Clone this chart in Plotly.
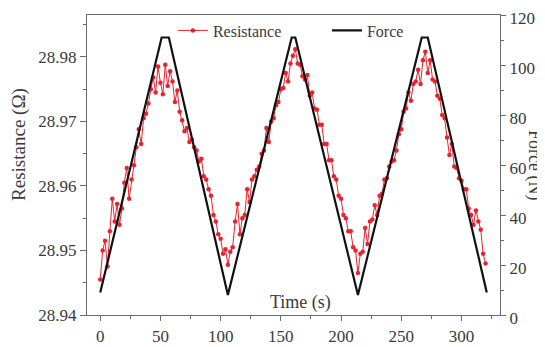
import plotly.graph_objects as go

# Resistance sampled every 2 s (t = 0 ... 320)
res_time_step = 2
resistance = [
    28.9455, 28.9500, 28.9515, 28.9475, 28.9530, 28.9580, 28.9545, 28.9572, 28.9540, 28.9565,  # t 0-18
    28.9605, 28.9628, 28.9580, 28.9610, 28.9632, 28.9660, 28.9688, 28.9665, 28.9705, 28.9712,  # t 20-38
    28.9728, 28.9750, 28.9768, 28.9745, 28.9785, 28.9760, 28.9742, 28.9788, 28.9755, 28.9778,  # t 40-58
    28.9762, 28.9730, 28.9748, 28.9715, 28.9702, 28.9685, 28.9690, 28.9668, 28.9672, 28.9660,  # t 60-78
    28.9655, 28.9638, 28.9642, 28.9615, 28.9610, 28.9595, 28.9585, 28.9555, 28.9545, 28.9525,  # t 80-98
    28.9518, 28.9495, 28.9502, 28.9478, 28.9498, 28.9505, 28.9545, 28.9572, 28.9525, 28.9550,  # t 100-118
    28.9555, 28.9595, 28.9575, 28.9610, 28.9615, 28.9625, 28.9630, 28.9650, 28.9655, 28.9690,  # t 120-138
    28.9668, 28.9700, 28.9705, 28.9725, 28.9730, 28.9750, 28.9752, 28.9775, 28.9762, 28.9790,  # t 140-158
    28.9802, 28.9812, 28.9790, 28.9788, 28.9770, 28.9765, 28.9772, 28.9740, 28.9745, 28.9720,  # t 160-178
    28.9718, 28.9695, 28.9695, 28.9665, 28.9665, 28.9640, 28.9640, 28.9615, 28.9610, 28.9585,  # t 180-198
    28.9580, 28.9555, 28.9550, 28.9530, 28.9530, 28.9505, 28.9500, 28.9465, 28.9495, 28.9498,  # t 200-218
    28.9535, 28.9510, 28.9545, 28.9548, 28.9570, 28.9555, 28.9585, 28.9588, 28.9610, 28.9612,  # t 220-238
    28.9630, 28.9638, 28.9640, 28.9655, 28.9680, 28.9688, 28.9715, 28.9720, 28.9745, 28.9732,  # t 240-258
    28.9758, 28.9762, 28.9780, 28.9758, 28.9795, 28.9808, 28.9775, 28.9795, 28.9765, 28.9762,  # t 260-278
    28.9740, 28.9735, 28.9710, 28.9705, 28.9675, 28.9648, 28.9665, 28.9630, 28.9628, 28.9612,  # t 280-298
    28.9608, 28.9595, 28.9595, 28.9565, 28.9555, 28.9540, 28.9562, 28.9545, 28.9532, 28.9495,  # t 300-318
    28.9480,                                                                                    # t 320
]
res_time = [i * res_time_step for i in range(len(resistance))]

# Force: triangular loading profile (vertices)
force_time = [0, 51, 57, 106, 159, 162, 214, 267, 272, 321]
force = [9, 111, 111, 8, 111, 111, 8, 111, 111, 9]

x_ticks = [0, 50, 100, 150, 200, 250, 300]
res_ticks = [28.94, 28.95, 28.96, 28.97, 28.98]
force_ticks = [0, 20, 40, 60, 80, 100, 120]

FONT = "Liberation Serif"
AX = "#6b6b6b"
TXT = "#3a3a3a"
TICKFONT = dict(family=FONT, size=17, color=TXT)

fig = go.Figure()
fig.add_trace(go.Scatter(
    x=res_time, y=resistance, name="Resistance", mode="lines+markers",
    line=dict(color="#e8222e", width=1),
    marker=dict(color="#e8222e", size=4.5, line=dict(width=0)),
    yaxis="y",
))
fig.add_trace(go.Scatter(
    x=force_time, y=force, name="Force", mode="lines",
    line=dict(color="#111111", width=2.2),
    yaxis="y2",
))

# page body adds an 8px offset, so the figure is 537x339
fig.update_layout(
    width=537, height=339,
    margin=dict(l=79, r=45, t=7, b=32, autoexpand=False),
    paper_bgcolor="white", plot_bgcolor="white",
    font=dict(family=FONT, size=16, color=TXT),
    showlegend=True,
    legend=dict(orientation="h", x=0.208, y=1.005, xanchor="left", yanchor="top",
                bgcolor="rgba(0,0,0,0)", font=dict(family=FONT, size=16, color=TXT),
                entrywidth=109, tracegroupgap=0, itemwidth=30),
    xaxis=dict(range=[-11, 332], tickvals=x_ticks, ticks="outside", ticklen=5, tickcolor=AX,
               showline=True, linecolor=AX, linewidth=1.3, mirror=True, showgrid=False,
               zeroline=False, tickfont=TICKFONT, automargin=False, ticklabeloverflow="allow",
               minor=dict(dtick=25, tick0=0, ticks="outside", ticklen=3, tickcolor=AX)),
    yaxis=dict(range=[28.94, 28.9865], tickvals=res_ticks, ticktext=[f"{v:.2f}" for v in res_ticks],
               ticks="outside", ticklen=6, tickcolor=AX, automargin=False, ticklabeloverflow="allow",
               showline=True, linecolor=AX, linewidth=1.3, showgrid=False, zeroline=False,
               tickfont=TICKFONT,
               minor=dict(dtick=0.005, tick0=28.94, ticks="outside", ticklen=3, tickcolor=AX)),
    yaxis2=dict(range=[0, 120], tickvals=force_ticks, overlaying="y", side="right",
                ticks="outside", ticklen=5, tickcolor=AX, automargin=False, ticklabeloverflow="allow",
                ticklabelshift=3,
                showline=True, linecolor=AX, linewidth=1.3, showgrid=False, zeroline=False,
                tickfont=TICKFONT,
                minor=dict(dtick=10, tick0=0, ticks="outside", ticklen=3, tickcolor=AX)),
    annotations=[
        dict(text="Resistance (Ω)", xref="paper", yref="paper", x=-0.1646, y=0.567,
             textangle=-90, showarrow=False, font=dict(family=FONT, size=19, color=TXT),
             xanchor="center", yanchor="middle"),
        dict(text="Force (N)", xref="paper", yref="paper", x=1.0847, y=0.5,
             textangle=90, showarrow=False, font=dict(family=FONT, size=18, color=TXT),
             xanchor="center", yanchor="middle"),
        dict(text="Time (s)", xref="paper", yref="paper", x=0.516, y=0.043,
             showarrow=False, font=dict(family=FONT, size=18, color=TXT),
             xanchor="center", yanchor="middle"),
    ],
)

fig.write_html("out.html")
